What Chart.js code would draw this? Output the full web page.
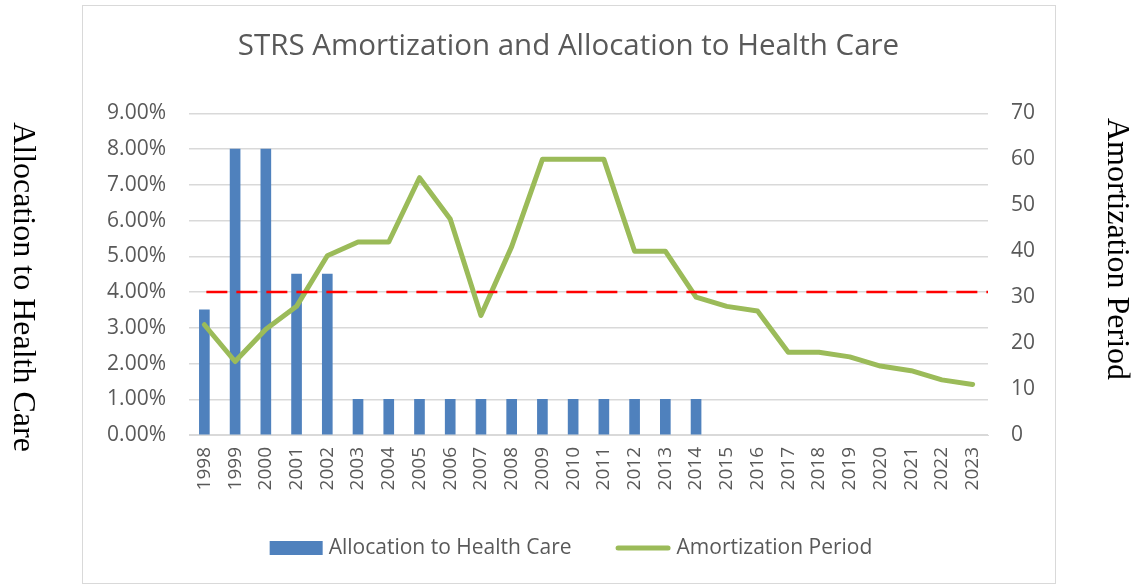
<!DOCTYPE html>
<html>
<head>
<meta charset="utf-8">
<script src="https://cdn.jsdelivr.net/npm/chart.js@4.4.1/dist/chart.umd.min.js"></script>
<style>
  html, body { margin: 0; padding: 0; background: #ffffff; }
  #wrap { position: relative; width: 1135px; height: 587px; }
</style>
</head>
<body>
<div id="wrap"><canvas id="c" width="1135" height="587"></canvas></div>
<script>
const years = ['1998','1999','2000','2001','2002','2003','2004','2005','2006','2007','2008','2009','2010','2011','2012','2013','2014','2015','2016','2017','2018','2019','2020','2021','2022','2023'];
const allocationPct = [3.5, 8, 8, 4.5, 4.5, 1, 1, 1, 1, 1, 1, 1, 1, 1, 1, 1, 1, 0, 0, 0, 0, 0, 0, 0, 0, 0];
const amortizationYears = [24, 16, 23, 28, 39, 42, 42, 56, 47, 26, 41, 60, 60, 60, 40, 40, 30, 28, 27, 18, 18, 17, 15, 14, 12, 11];
const leftTickLabels = ['0.00%','1.00%','2.00%','3.00%','4.00%','5.00%','6.00%','7.00%','8.00%','9.00%'];
const rightTickLabels = ['0','10','20','30','40','50','60','70'];
const thresholdPct = [4];
const titleText = 'STRS Amortization and Allocation to Health Care';
const leftAxisTitle = 'Allocation to Health Care';
const rightAxisTitle = 'Amortization Period';
const seriesNames = ['Allocation to Health Care', 'Amortization Period'];

const FONT = "'Open Sans', 'Noto Sans', sans-serif";
const TXT = '#595959';
const BAR = '#4F81BD';
const LINE = '#9BBB59';

const decor = {
  id: 'decor',
  beforeDraw(chart) {
    const ctx = chart.ctx;
    ctx.save();
    ctx.fillStyle = '#ffffff';
    ctx.fillRect(0, 0, chart.width, chart.height);
    ctx.strokeStyle = '#D9D9D9';
    ctx.lineWidth = 1;
    ctx.strokeRect(82.5, 5.5, 973, 578);
    ctx.restore();
  },
  afterDatasetsDraw(chart) {
    const ctx = chart.ctx;
    const y = chart.scales.y.getPixelForValue(thresholdPct[0]);
    const x0 = chart.scales.x.getPixelForValue(0) + 2;
    ctx.save();
    ctx.strokeStyle = '#FF0000';
    ctx.lineWidth = 2.5;
    ctx.setLineDash([21, 9]);
    ctx.beginPath();
    ctx.moveTo(x0, y);
    ctx.lineTo(chart.chartArea.right, y);
    ctx.stroke();
    ctx.restore();
  },
  afterDraw(chart) {
    const ctx = chart.ctx;
    // rotated axis titles outside the frame
    [[leftAxisTitle, 22, 287], [rightAxisTitle, 1116, 249]].forEach(([t, x, y]) => {
      ctx.save();
      ctx.fillStyle = '#000000';
      ctx.font = "32px 'Liberation Serif', 'Times New Roman', serif";
      ctx.textAlign = 'center';
      ctx.textBaseline = 'middle';
      ctx.translate(x, y);
      ctx.rotate(Math.PI / 2);
      ctx.fillText(t, 0, 0);
      ctx.restore();
    });
    // legend
    ctx.save();
    ctx.font = '21px ' + FONT;
    ctx.textBaseline = 'middle';
    ctx.textAlign = 'left';
    const w1 = ctx.measureText(seriesNames[0]).width;
    const w2 = ctx.measureText(seriesNames[1]).width;
    const boxW = 53, lineW = 55, gap = 6, itemGap = 44;
    const total = boxW + gap + w1 + itemGap + lineW + gap + w2;
    const cy = 548;
    let x = 571 - total / 2;
    ctx.fillStyle = BAR;
    ctx.fillRect(x, cy - 7, boxW, 14);
    x += boxW + gap;
    ctx.fillStyle = TXT;
    ctx.fillText(seriesNames[0], x, cy);
    x += w1 + itemGap;
    ctx.strokeStyle = LINE;
    ctx.lineWidth = 5;
    ctx.lineCap = 'round';
    ctx.beginPath();
    ctx.moveTo(x + 2.5, cy);
    ctx.lineTo(x + lineW - 2.5, cy);
    ctx.stroke();
    x += lineW + gap;
    ctx.fillText(seriesNames[1], x, cy);
    ctx.restore();
  }
};

new Chart(document.getElementById('c'), {
  data: {
    labels: years,
    datasets: [
      {
        type: 'bar',
        label: seriesNames[0],
        data: allocationPct,
        backgroundColor: (c) => (c.raw === 0 ? 'rgba(0,0,0,0)' : BAR),
        borderWidth: 0,
        barThickness: 10,
        yAxisID: 'y',
        order: 2
      },
      {
        type: 'line',
        label: seriesNames[1],
        data: amortizationYears,
        borderColor: LINE,
        backgroundColor: LINE,
        borderWidth: 5,
        pointRadius: 0,
        tension: 0,
        borderJoinStyle: 'round',
        borderCapStyle: 'round',
        yAxisID: 'y1',
        order: 1
      }
    ]
  },
  plugins: [decor],
  options: {
    responsive: false,
    animation: false,
    layout: { padding: { left: 82, right: 80, top: 5, bottom: 52 } },
    plugins: {
      title: {
        display: true,
        text: titleText,
        color: TXT,
        font: { family: FONT, size: 29.5, weight: 'normal' },
        padding: { top: 24, bottom: 49 }
      },
      legend: { display: false },
      tooltip: { enabled: false }
    },
    scales: {
      x: {
        grid: { display: false, drawTicks: false },
        border: { display: true, color: '#D9D9D9', width: 1 },
        ticks: {
          color: TXT,
          font: { family: FONT, size: 19 },
          maxRotation: 90,
          minRotation: 90,
          padding: 12,
          autoSkip: false
        },
        afterFit(scale) { scale.height = 100; }
      },
      y: {
        position: 'left',
        min: 0,
        max: 9,
        afterBuildTicks(scale) { scale.ticks = leftTickLabels.map((_, i) => ({ value: i })); },
        ticks: {
          color: TXT,
          font: { family: FONT, size: 21 },
          padding: 23,
          callback: (v) => leftTickLabels[v]
        },
        grid: { color: '#D9D9D9', lineWidth: 1.5, drawTicks: false },
        border: { display: false },
        afterFit(scale) { scale.width = 107; }
      },
      y1: {
        position: 'right',
        min: 0,
        max: 70,
        afterBuildTicks(scale) { scale.ticks = rightTickLabels.map((t) => ({ value: Number(t) })); },
        ticks: {
          color: TXT,
          font: { family: FONT, size: 21 },
          padding: 23,
          callback: (v) => rightTickLabels[v / 10]
        },
        grid: { display: false, drawTicks: false },
        border: { display: false },
        afterFit(scale) { scale.width = 67; }
      }
    }
  }
});
</script>
</body>
</html>
